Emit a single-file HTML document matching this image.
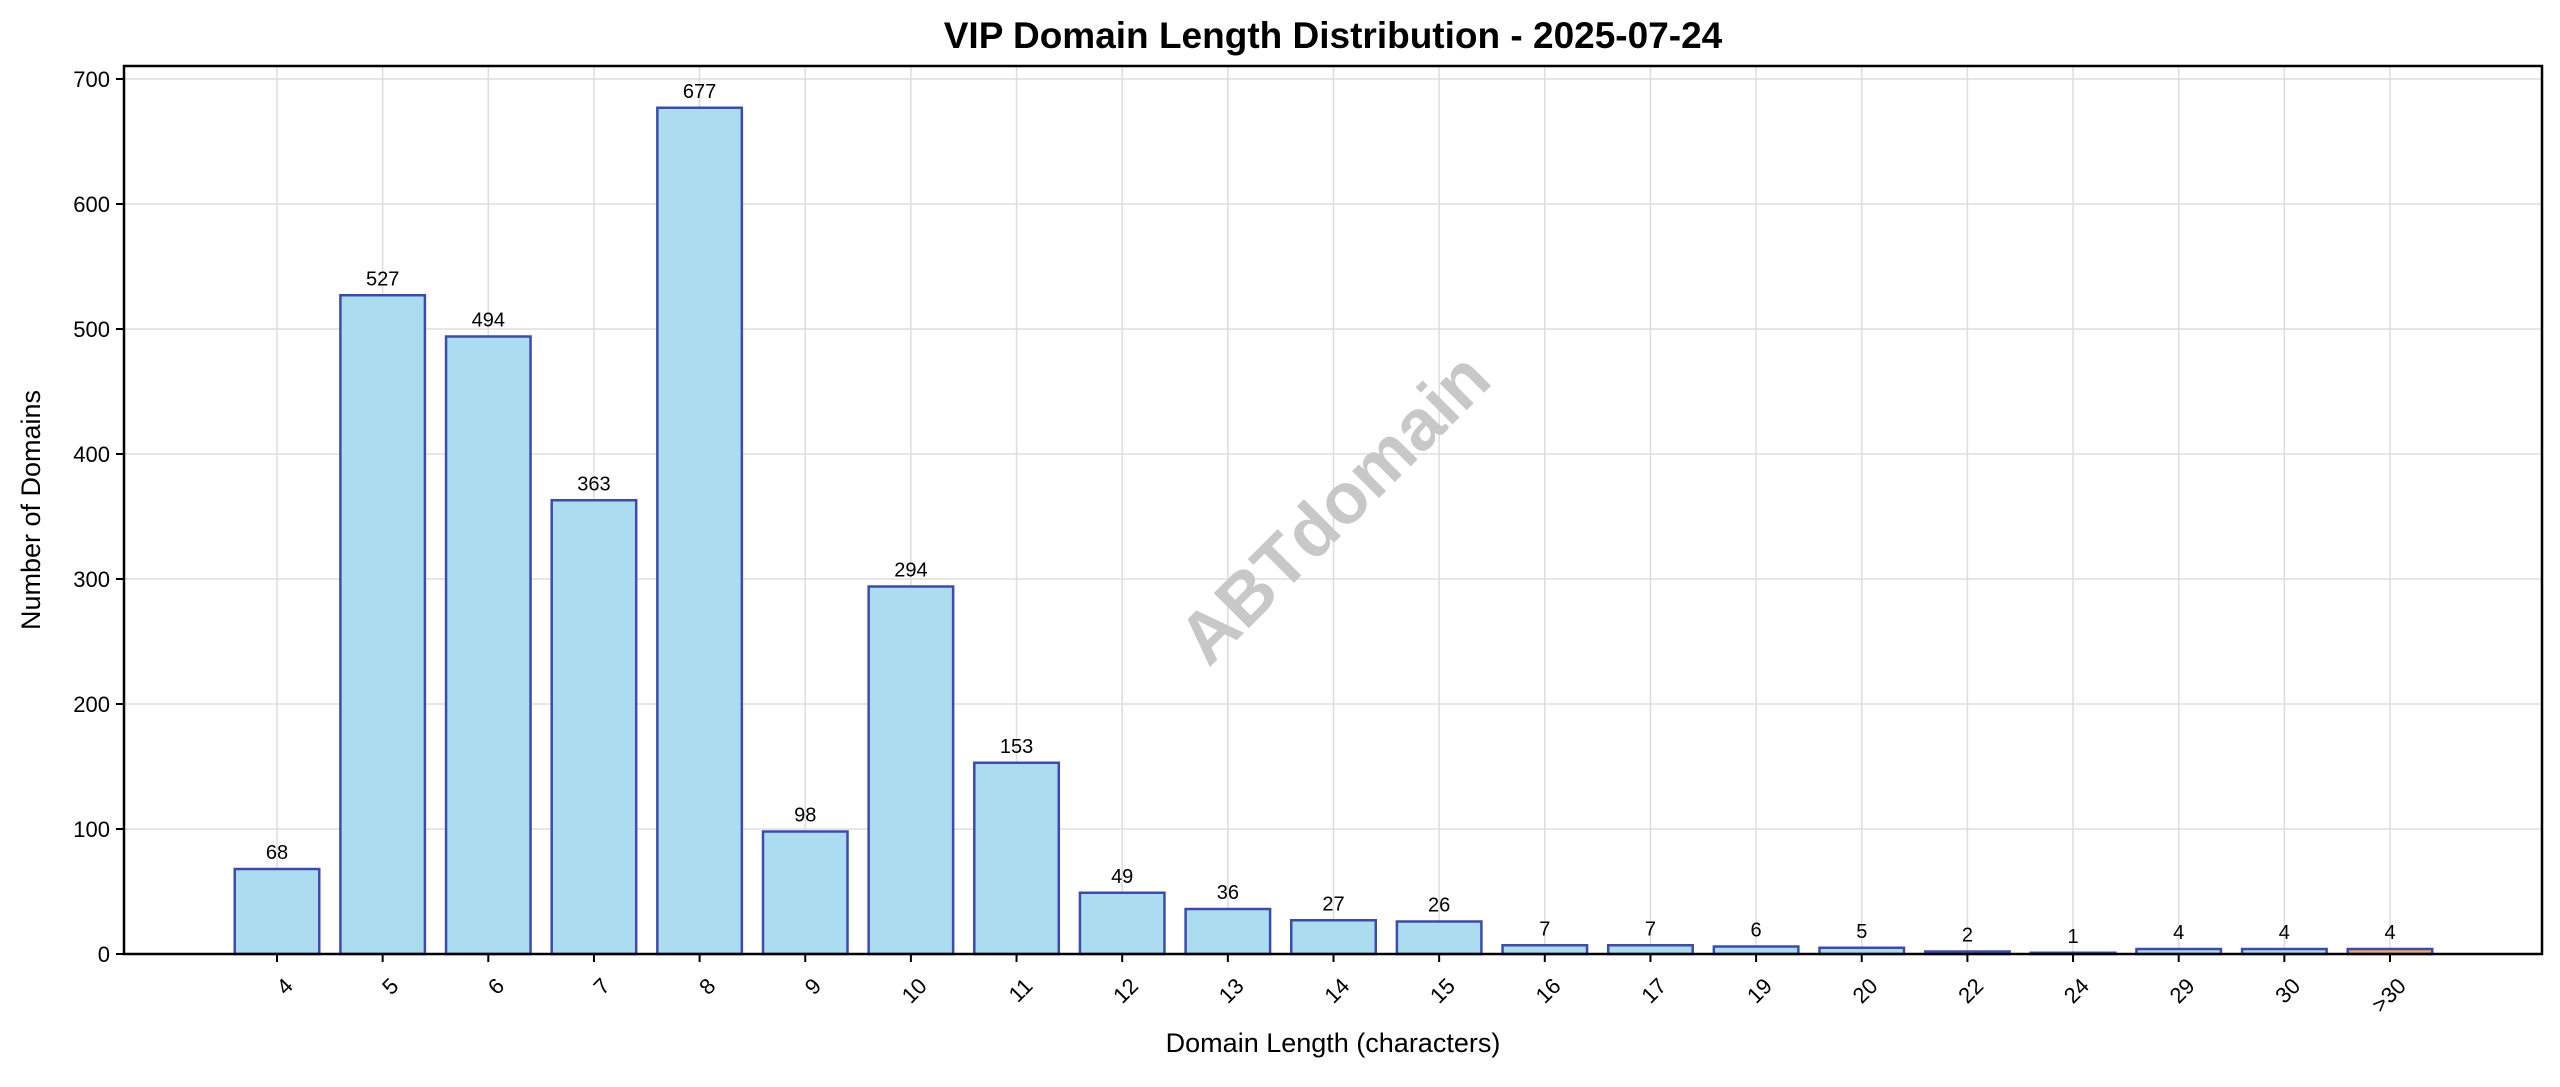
<!DOCTYPE html>
<html><head><meta charset="utf-8"><style>body{margin:0;background:#fff}svg{display:block}text{font-family:"Liberation Sans","DejaVu Sans",sans-serif}</style></head>
<body>
<svg id="c" width="2560" height="1087"></svg>
<script>
const categories=["4","5","6","7","8","9","10","11","12","13","14","15","16","17","19","20","22","24","29","30",">30"];
const values=[68,527,494,363,677,98,294,153,49,36,27,26,7,7,6,5,2,1,4,4,4];
const yTicks=[0,100,200,300,400,500,600,700];
const NS="http://www.w3.org/2000/svg";
const svg=document.getElementById('c');
const L=124,R=2542,T=66,B=954;
const x0=277,step=105.65,bw=84.5;
const xs=i=>x0+i*step;
const ys=v=>B-v*(B-79)/700;
function el(t,a,p){const e=document.createElementNS(NS,t);for(const k in a)e.setAttribute(k,a[k]);(p||svg).appendChild(e);return e;}
const grid=el('g',{});
yTicks.forEach(v=>{el('line',{x1:L,x2:R,y1:ys(v),y2:ys(v),stroke:'#ddd','stroke-width':1.5},grid);});
categories.forEach((c,i)=>{el('line',{x1:xs(i),x2:xs(i),y1:T,y2:B,stroke:'#ddd','stroke-width':1.5},grid);});
const wm=el('text',{x:1338,y:512,'font-size':72,'font-weight':'bold',fill:'#c8c8c8','text-anchor':'middle','dominant-baseline':'middle',transform:'rotate(-45 1338 512)'});
wm.textContent='ABTdomain';
values.forEach((v,i)=>{
 const last=i===values.length-1;
 const r=el('rect',{x:xs(i)-bw/2,y:ys(v),width:bw,height:B-ys(v),fill:last?'#f2ac55':'#abdcf0',stroke:'#3d4bb0','stroke-width':2.5});
 
 const t=el('text',{x:xs(i),y:ys(v)-10,'font-size':20,'text-anchor':'middle',fill:'#000'});
 t.textContent=v;
 el('line',{x1:xs(i),x2:xs(i),y1:B,y2:B+8,stroke:'#000','stroke-width':2});
 const xl=el('text',{x:xs(i)+6,y:B+22,'font-size':22,'text-anchor':'end',fill:'#000',transform:`rotate(-45 ${xs(i)+6} ${B+22})`,'dominant-baseline':'hanging'});
 xl.textContent=categories[i];
});
yTicks.forEach(v=>{
 el('line',{x1:L-8,x2:L,y1:ys(v),y2:ys(v),stroke:'#000','stroke-width':2});
 const t=el('text',{x:L-14,y:ys(v)+8,'font-size':22,'text-anchor':'end',fill:'#000'});
 t.textContent=v;
});
const f=el('rect',{x:L,y:T,width:R-L,height:B-T,fill:'none',stroke:'#000','stroke-width':2.5});

const ti=el('text',{x:(L+R)/2,y:48,'font-size':37,'font-weight':'bold','text-anchor':'middle'});
ti.textContent='VIP Domain Length Distribution - 2025-07-24';
const xt=el('text',{x:(L+R)/2,y:1052,'font-size':27,'text-anchor':'middle'});
xt.textContent='Domain Length (characters)';
const yt=el('text',{x:40,y:(T+B)/2,'font-size':27,'text-anchor':'middle',transform:`rotate(-90 40 ${(T+B)/2})`});
yt.textContent='Number of Domains';
</script>
</body></html>
